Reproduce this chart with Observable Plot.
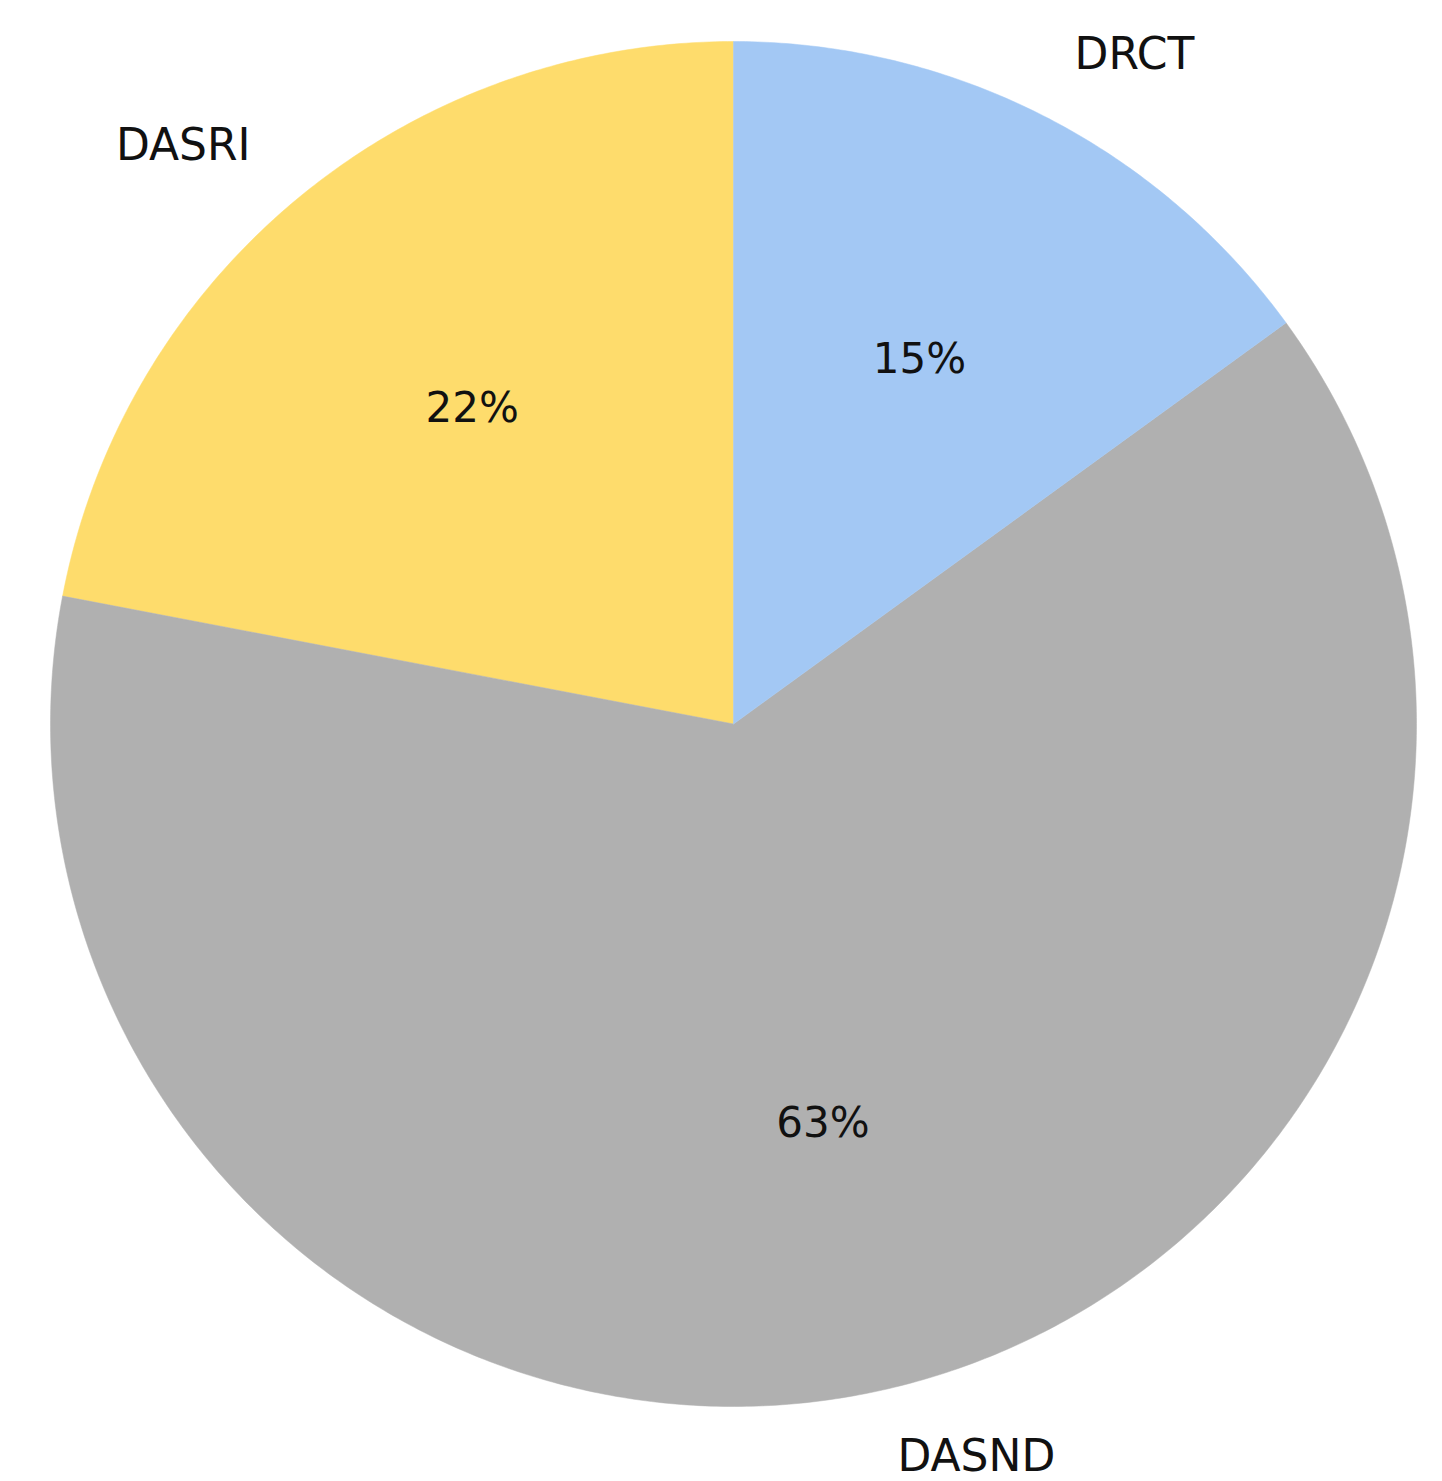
<!DOCTYPE html>
<html>
<head>
<meta charset="utf-8">
<script src="https://cdn.jsdelivr.net/npm/d3@7"></script>
<script src="https://cdn.jsdelivr.net/npm/@observablehq/plot@0.6"></script>
<style>
  html, body { margin: 0; padding: 0; background: #fff; }
  svg { display: block; }
</style>
</head>
<body>
<div id="chart"></div>
<script>
// Data (counter-clockwise from 12 o'clock, matplotlib style)
const categories = ["DASRI", "DASND", "DRCT"];
const values = [22, 63, 15];
const colors = ["#fedc6c", "#b0b0b0", "#a3c8f4"];

const total = d3.sum(values);
const startDeg = 90;
// compute slice angles (degrees, counter-clockwise, math convention)
let acc = startDeg;
const slices = categories.map((c, i) => {
  const a0 = acc;
  const a1 = acc + values[i] / total * 360;
  acc = a1;
  return {category: c, value: values[i], color: colors[i], a0, a1, mid: (a0 + a1) / 2};
});

// polygon points for each wedge in unit-circle coordinates
const wedgePts = [];
for (const s of slices) {
  const n = Math.max(2, Math.ceil((s.a1 - s.a0) * 2));
  wedgePts.push({category: s.category, x: 0, y: 0});
  for (let k = 0; k <= n; k++) {
    const a = (s.a0 + (s.a1 - s.a0) * k / n) * Math.PI / 180;
    wedgePts.push({category: s.category, x: Math.cos(a), y: Math.sin(a)});
  }
  wedgePts.push({category: s.category, x: 0, y: 0});
}

const rad = d => d * Math.PI / 180;
const labels = slices.map(s => ({
  text: s.category,
  x: 1.1 * Math.cos(rad(s.mid)),
  y: 1.1 * Math.sin(rad(s.mid)),
  right: Math.cos(rad(s.mid)) > 0
}));
const pcts = slices.map(s => ({
  text: Math.round(s.value / total * 100) + "%",
  x: 0.6 * Math.cos(rad(s.mid)),
  y: 0.6 * Math.sin(rad(s.mid))
}));

const W = 1442, H = 1481;
const fontFamily = "DejaVu Sans, sans-serif";

const chart = Plot.plot({
  width: W,
  height: H,
  marginLeft: 50,
  marginRight: 26,
  marginTop: 41,
  marginBottom: 75,
  x: {domain: [-1, 1], axis: null},
  y: {domain: [-1, 1], axis: null},
  color: {domain: categories, range: colors},
  style: {fontFamily, background: "white", overflow: "visible"},
  marks: [
    Plot.line(wedgePts, {x: "x", y: "y", z: "category", fill: "category", stroke: "category", strokeWidth: 0.5, curve: "linear"}),
    Plot.text(labels.filter(d => d.right), {x: "x", y: "y", text: "text", textAnchor: "start", fontSize: 44, fill: "#111"}),
    Plot.text(labels.filter(d => !d.right), {x: "x", y: "y", text: "text", textAnchor: "end", fontSize: 44, fill: "#111", dx: -4}),
    Plot.text(pcts, {x: "x", y: "y", text: "text", textAnchor: "middle", fontSize: 42, fill: "#111"})
  ]
});
document.getElementById("chart").appendChild(chart);
</script>
</body>
</html>
